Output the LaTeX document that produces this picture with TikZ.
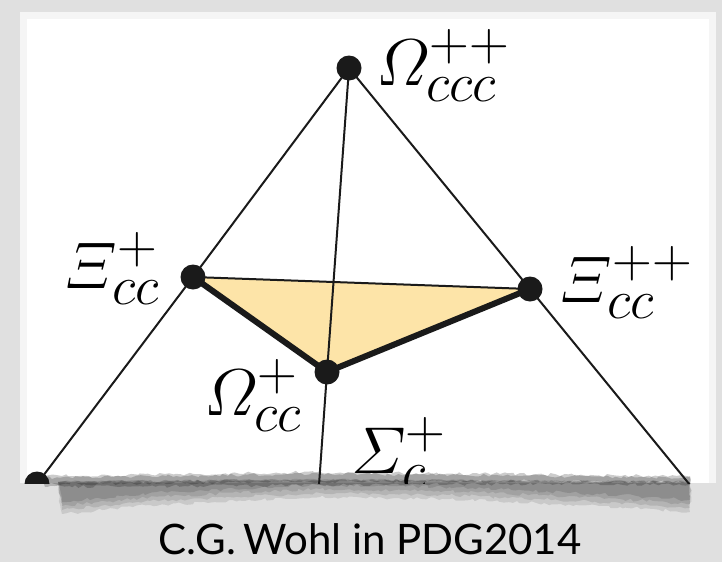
\documentclass[tikz,border=0pt]{standalone}
\usepackage{amsmath}
\usepackage{fontspec}
\newfontfamily\capfont{Lato}
\usetikzlibrary{decorations.pathmorphing}
\definecolor{bggrey}{HTML}{E0E0E0}
\definecolor{trifill}{HTML}{FDE4A8}
\definecolor{ink}{HTML}{1A1A1A}
\newcommand{\biglabel}[1]{\scalebox{1.33}{\Huge$#1$}}

\begin{document}
\begin{tikzpicture}[
  x=0.5pt,y=-0.5pt,
  thinline/.style={line width=1pt,draw=ink},
  thickline/.style={line width=3pt,draw=ink,line join=round},
  dot/.style={circle,fill=ink,inner sep=0pt,minimum size=12.5pt},
  lbl/.style={inner sep=0pt,anchor=base west},
  smudge/.style={decorate,decoration={random steps,segment length=2pt,amplitude=0.8pt}},
]
\pgfmathsetseed{7}
% background and paper
\fill[bggrey] (0,0) rectangle (722,562);
\fill[white!96!black] (20,12) rectangle (716,483);
\fill[white] (27,19) rectangle (709,483);
% torn lower edge (shadow below, dark band above)
\foreach \d/\o in {0/0.1,4/0.1,8/0.1,12/0.12} {
  \path[smudge,fill=black,opacity=\o] (58,482) -- (200,481) -- (320,480) -- (500,481) -- (690,482)
    -- (690,512-\d) -- (620,507-\d) -- (450,499-\d) -- (320,497-\d) -- (150,505-\d) -- (62,514-\d) -- cycle;
}
\foreach \d/\o in {0/0.2,3/0.2} {
  \path[smudge,fill=black,opacity=\o] (45,476+\d/2) -- (200,474+\d/2) -- (320,472+\d/2) -- (500,474+\d/2) -- (690,476+\d/2)
    -- (690,485-\d) -- (500,484-\d) -- (320,485-\d) -- (200,486-\d) -- (45,487-\d) -- cycle;
}
% points
\coordinate (pccc) at (349,68);
\coordinate (pxi) at (193,277);
\coordinate (pxipp) at (530,289);
\coordinate (pom) at (327,372);
\coordinate (pleft) at (37,484);
\coordinate (pright) at (690,485);
\coordinate (pbot) at (319,485);
\begin{scope}
  \clip (20,12) rectangle (716,483);
  \fill[trifill] (pxi) -- (pxipp) -- (pom) -- cycle;
  \draw[thinline] (pccc) -- (pxi) -- (pleft);
  \draw[thinline] (pccc) -- (pxipp) -- (pright);
  \draw[thinline] (pccc) -- (pom) -- (pbot);
  \draw[thinline] (pxi) -- (pxipp);
  \draw[thickline] (pxi) -- (pom) -- (pxipp);
  \node[dot] (occc) at (pccc) {};
  \node[dot] (xicc) at (pxi) {};
  \node[dot] (xiccpp) at (pxipp) {};
  \node[dot] (omcc) at (pom) {};
  \node[dot] (corner) at (pleft) {};
  % labels
  \node[lbl] (loccc) at (376,85) {\biglabel{\varOmega^{++}_{ccc}}};
  \node[lbl] (lxicc) at (64,288) {\biglabel{\varXi^{+}_{cc}}};
  \node[lbl] (lxiccpp) at (559,302) {\biglabel{\varXi^{++}_{cc}}};
  \node[lbl] (lomcc) at (204,415) {\biglabel{\varOmega^{+}_{cc}}};
  \node[lbl] (lsigc) at (351,473) {\biglabel{\varSigma^{+}_{c}}};
\end{scope}
\node[font=\capfont\fontsize{21}{25}\selectfont] (source) at (370,539) {C.G.\,Wohl in PDG2014};
\end{tikzpicture}
\end{document}
